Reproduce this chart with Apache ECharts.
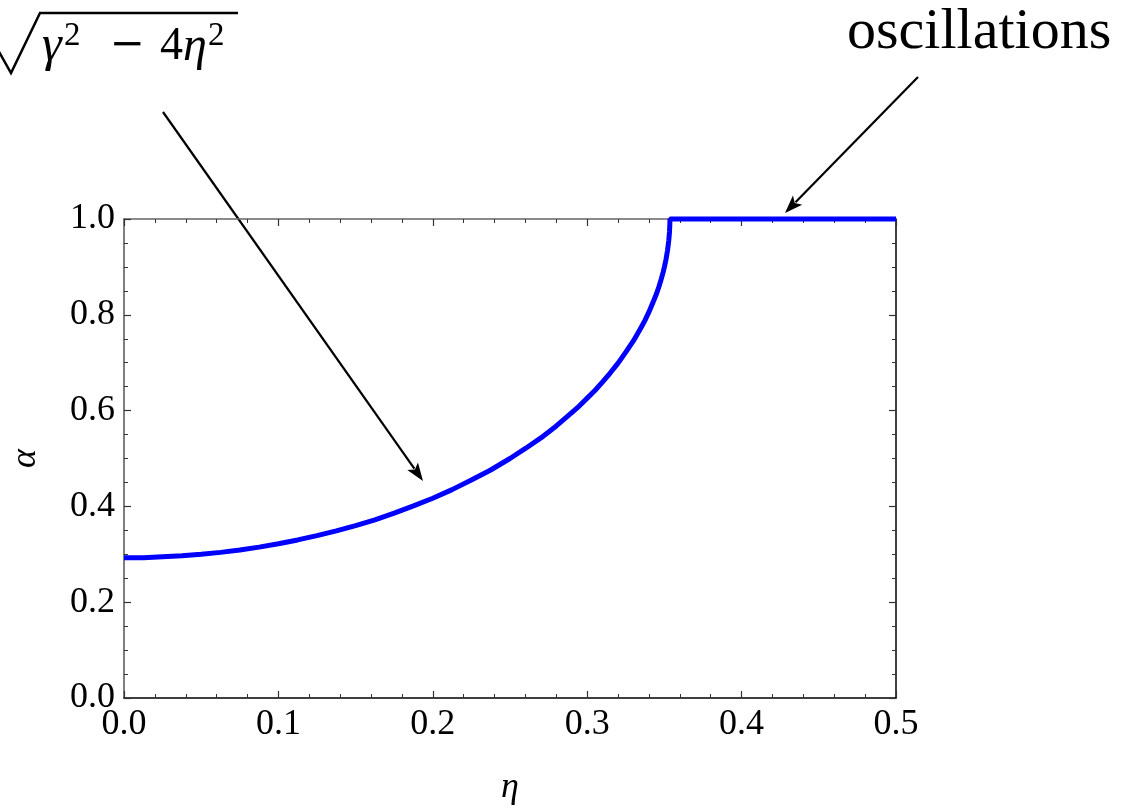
<!DOCTYPE html>
<html>
<head>
<meta charset="utf-8">
<script src="https://cdn.jsdelivr.net/npm/echarts@6/dist/echarts.min.js"></script>
<style>
  html, body { margin: 0; padding: 0; background: #fff; }
  #chart { width: 1126px; height: 812px; }
</style>
</head>
<body>
<div id="chart"></div>
<script>
// values
const etaValues = [0, 0.0125, 0.025, 0.0375, 0.05, 0.0625, 0.075, 0.0875, 0.1, 0.1125,
  0.125, 0.1375, 0.15, 0.1625, 0.175, 0.1875, 0.2, 0.2125, 0.225, 0.2375, 0.25, 0.26,
  0.27, 0.28, 0.29, 0.295, 0.3, 0.305, 0.31, 0.315, 0.32, 0.325, 0.33, 0.335, 0.3375,
  0.34, 0.3425, 0.345, 0.3465, 0.348, 0.3492, 0.35, 0.351, 0.352, 0.3528, 0.3533,
  0.3535, 0.3536, 0.4, 0.45, 0.5];
const alphaValues = [0.293, 0.293, 0.295, 0.297, 0.3, 0.304, 0.309, 0.315, 0.322, 0.33,
  0.339, 0.349, 0.36, 0.372, 0.386, 0.401, 0.417, 0.435, 0.455, 0.476, 0.5, 0.521,
  0.543, 0.568, 0.596, 0.61, 0.626, 0.642, 0.66, 0.679, 0.699, 0.722, 0.746, 0.774, 0.789,
  0.806, 0.825, 0.845, 0.859, 0.875, 0.889, 0.9, 0.915, 0.934, 0.954, 0.973,
  0.988, 1.0, 1.0, 1.0, 1.0];

const xTicks = { min: 0, max: 0.5, step: 0.1 };
const yTicks = { min: 0, max: 1, step: 0.2 };

const serif = '"Liberation Serif", "DejaVu Serif", serif';
const mathFont = '"DejaVu Serif", "Liberation Serif", serif';

const chart = echarts.init(document.getElementById('chart'));

// arrow: line plus a filled head at the tip
function arrow(x1, y1, x2, y2) {
  const ang = Math.atan2(y2 - y1, x2 - x1);
  const len = 18, half = 6.5;
  const bx = x2 - len * Math.cos(ang), by = y2 - len * Math.sin(ang);
  const px = -Math.sin(ang) * half, py = Math.cos(ang) * half;
  return [
    { type: 'line', shape: { x1: x1, y1: y1, x2: bx + 3 * Math.cos(ang), y2: by + 3 * Math.sin(ang) },
      style: { stroke: '#000', lineWidth: 2.2 }, silent: true },
    { type: 'polygon', shape: { points: [[x2, y2], [bx + px, by + py], [bx + 4 * Math.cos(ang), by + 4 * Math.sin(ang)], [bx - px, by - py]] },
      style: { fill: '#000' }, silent: true }
  ];
}

function txt(x, y, text, size, font, italic, align) {
  return {
    type: 'text', x: x, y: y, silent: true,
    style: {
      text: text, fill: '#000', fontFamily: font, fontSize: size,
      fontStyle: italic ? 'italic' : 'normal',
      align: align || 'left', verticalAlign: 'middle'
    }
  };
}

const tickLabel = {
  fontFamily: serif, fontSize: 36, color: '#000',
  formatter: v => v.toFixed(1)
};

function frameAxis(range, pos, show, lineColor, minorSplit) {
  return {
    type: 'value', position: pos,
    min: range.min, max: range.max, interval: range.step,
    axisLine: { show: true, onZero: false, lineStyle: { color: lineColor, width: 1.5 } },
    axisTick: { show: true, inside: true, length: 7, lineStyle: { color: '#333', width: 1.2 } },
    minorTick: { show: true, splitNumber: minorSplit, length: 4, lineStyle: { color: '#333', width: 1 } },
    splitLine: { show: false },
    axisLabel: show ? Object.assign({ margin: 9, showMinLabel: true, showMaxLabel: true }, tickLabel) : { show: false }
  };
}

const xBottom = frameAxis(xTicks, 'bottom', true, '#000', 5);
xBottom.name = 'η';
xBottom.nameLocation = 'middle';
xBottom.nameGap = 72;
xBottom.nameTextStyle = { fontFamily: serif, fontSize: 36, fontStyle: 'italic', color: '#000' };

const yLeft = frameAxis(yTicks, 'left', true, '#555', 4);
yLeft.name = 'α';
yLeft.nameLocation = 'middle';
yLeft.nameGap = 80;
yLeft.nameRotate = 90;
yLeft.nameTextStyle = { fontFamily: serif, fontSize: 36, fontStyle: 'italic', color: '#000' };

const option = {
  backgroundColor: '#fff',
  animation: false,
  grid: { left: 120, top: 219, right: 230, bottom: 114, containLabel: false },
  xAxis: [xBottom, frameAxis(xTicks, 'top', false, '#666', 5)],
  yAxis: [yLeft, frameAxis(yTicks, 'right', false, '#000', 4)],
  series: [{
    type: 'line',
    xAxisIndex: 0, yAxisIndex: 0,
    data: etaValues.map((e, i) => [e, alphaValues[i]]),
    showSymbol: false,
    clip: false,
    lineStyle: { color: '#0000ff', width: 5 },
    z: 5
  }],
  graphic: [
    // radical sign and bar
    { type: 'polyline', silent: true,
      shape: { points: [[-2, 50], [11, 73], [40, 13], [238, 13]] },
      style: { stroke: '#000', lineWidth: 2.5, fill: null, lineJoin: 'miter' } },
    txt(42, 47, 'γ', 50, serif, true),
    txt(64, 36, '2', 33, serif, false),
    txt(127, 46, '−', 42, mathFont, false, 'center'),
    txt(160, 47, '4', 46, serif, false),
    txt(183, 47, 'η', 48, serif, true),
    txt(208, 36, '2', 33, serif, false),
    txt(847, 33, 'oscillations', 58, serif, false),
    ...arrow(163, 112, 423, 481),
    ...arrow(918, 77, 785, 213)
  ]
};

chart.setOption(option);
</script>
</body>
</html>
